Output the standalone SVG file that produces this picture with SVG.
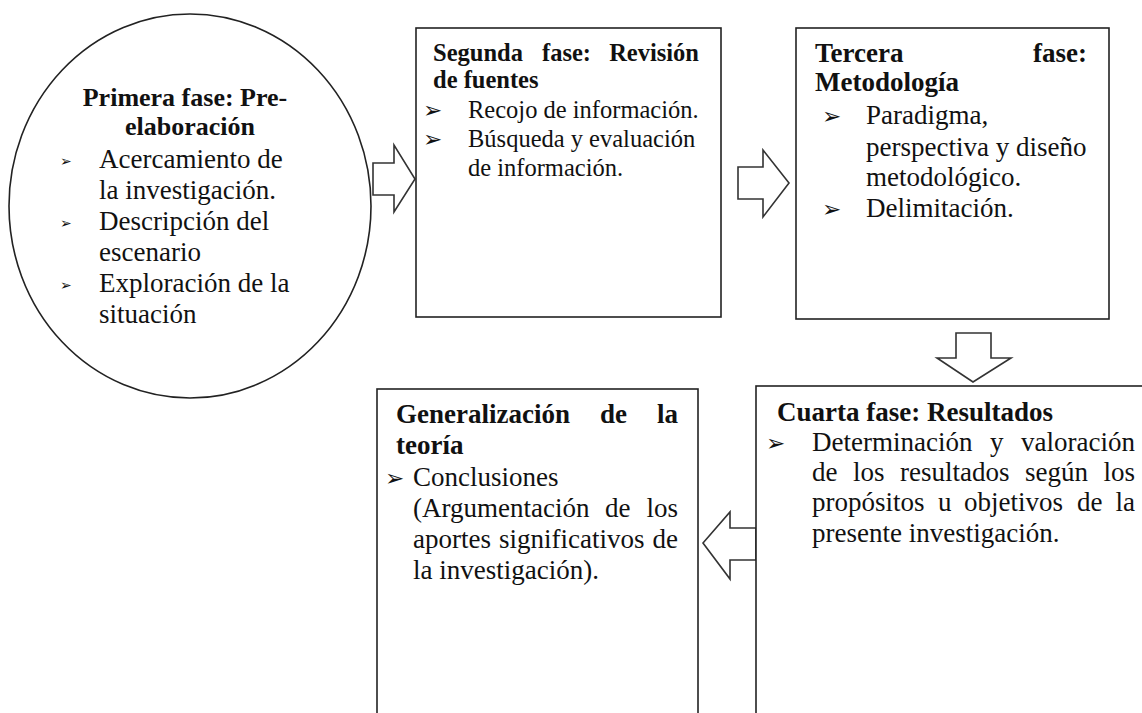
<svg xmlns="http://www.w3.org/2000/svg" width="1142" height="713" viewBox="0 0 1142 713">
<style>
.shape{fill:#fff;stroke:#222;stroke-width:1.6}
.arrow{fill:#fff;stroke:#333;stroke-width:1.6;stroke-linejoin:miter}
text{font-family:"Liberation Serif","Times New Roman",serif;fill:#111}
.t{font-size:27px}
.s{font-size:24.5px}
.b{font-weight:bold}
.e{text-anchor:end}
.m{text-anchor:middle}
.bul{font-family:"DejaVu Sans",sans-serif;font-size:23px}
.bsm{font-family:"DejaVu Sans",sans-serif;font-size:14px}
</style>
<rect width="1142" height="713" fill="#fff"/>
<g id="connectors">
<polygon class="arrow" points="373,163 394,163 394,145 415,179 394,212 394,195 373,195"/>
<polygon class="arrow" points="738,167 763,167 763,150 789,183 763,217 763,199 738,199"/>
<polygon class="arrow" points="956,333 991,333 991,358 1011,358 973,382 937,358 956,358"/>
<polygon class="arrow" points="756,528 730,528 730,512 703,543 730,579 730,560 756,560"/>
</g>
<g id="fase1">
<ellipse class="shape" cx="190" cy="206" rx="181" ry="192"/>
<text class="t b m" x="185" y="106" style="font-size:26px">Primera fase: Pre-</text>
<text class="t b m" x="190" y="135" style="font-size:26px">elaboración</text>
<text class="bsm" x="60" y="166">➢</text>
<text class="t" x="99" y="168">Acercamiento de</text>
<text class="t" x="99" y="199">la investigación.</text>
<text class="bsm" x="60" y="228">➢</text>
<text class="t" x="99" y="230">Descripción del</text>
<text class="t" x="99" y="261">escenario</text>
<text class="bsm" x="60" y="290">➢</text>
<text class="t" x="99" y="292">Exploración de la</text>
<text class="t" x="99" y="323">situación</text>
</g>
<g id="fase2">
<rect class="shape" x="416" y="28" width="305" height="289"/>
<text class="s b" x="433" y="61">Segunda</text>
<text class="s b" x="542" y="61">fase:</text>
<text class="s b e" x="699" y="61">Revisión</text>
<text class="s b" x="433" y="88">de fuentes</text>
<text class="bul" x="423" y="118">➢</text>
<text class="s" x="468" y="118">Recojo de información.</text>
<text class="bul" x="423" y="147">➢</text>
<text class="s" x="468" y="147">Búsqueda y evaluación</text>
<text class="s" x="468" y="176">de información.</text>
</g>
<g id="fase3">
<rect class="shape" x="796" y="28" width="313" height="291"/>
<text class="t b" x="815" y="62">Tercera</text>
<text class="t b e" x="1087" y="62">fase:</text>
<text class="t b" x="815" y="91">Metodología</text>
<text class="bul" x="822" y="124">➢</text>
<text class="t" x="866" y="124">Paradigma,</text>
<text class="t" x="866" y="156">perspectiva y diseño</text>
<text class="t" x="866" y="186">metodológico.</text>
<text class="bul" x="822" y="217">➢</text>
<text class="t" x="866" y="217">Delimitación.</text>
</g>
<g id="fase4">
<rect class="shape" x="756" y="386" width="420" height="360"/>
<text class="t b" x="777" y="421">Cuarta fase: Resultados</text>
<text class="bul" x="766" y="451">➢</text>
<text class="t" x="812" y="451">Determinación</text>
<text class="t" x="990" y="451">y</text>
<text class="t e" x="1135" y="451">valoración</text>
<text class="t" x="812" y="481">de</text>
<text class="t" x="853" y="481">los</text>
<text class="t" x="900" y="481">resultados</text>
<text class="t" x="1025" y="481">según</text>
<text class="t e" x="1135" y="481">los</text>
<text class="t" x="812" y="511">propósitos</text>
<text class="t" x="938" y="511">u</text>
<text class="t" x="964" y="511">objetivos</text>
<text class="t" x="1077" y="511">de</text>
<text class="t e" x="1135" y="511">la</text>
<text class="t" x="812" y="542">presente investigación.</text>
</g>
<g id="generalizacion">
<rect class="shape" x="377" y="389" width="321" height="360"/>
<text class="t b" x="396" y="423">Generalización</text>
<text class="t b" x="600" y="423">de</text>
<text class="t b e" x="678" y="423">la</text>
<text class="t b" x="396" y="454">teoría</text>
<text class="bul" x="385" y="486">➢</text>
<text class="t" x="413" y="486">Conclusiones</text>
<text class="t" x="413" y="517">(Argumentación</text>
<text class="t" x="605" y="517">de</text>
<text class="t e" x="678" y="517">los</text>
<text class="t" x="413" y="548">aportes</text>
<text class="t" x="499" y="548">significativos</text>
<text class="t e" x="678" y="548">de</text>
<text class="t" x="413" y="579">la investigación).</text>
</g>
</svg>
